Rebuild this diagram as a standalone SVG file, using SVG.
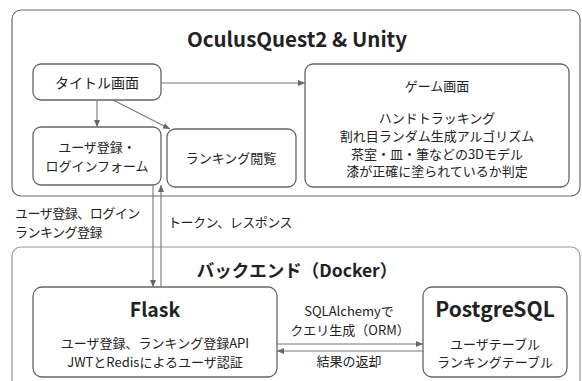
<svg xmlns="http://www.w3.org/2000/svg" width="582" height="381" viewBox="0 0 582 381">
<defs>
<style>
.cont{fill:#fff;stroke:#6a6a6a;stroke-width:1.2}
.cont2{fill:#fff;stroke:#9a9a9a;stroke-width:1.2}
.node{fill:#fff;stroke:#666;stroke-width:1.3}
text{font-family:"Noto Sans CJK JP","Noto Sans",sans-serif;fill:#222;text-anchor:middle}
.t{font-size:13px}
.h{font-size:19.5px;font-weight:bold}
.l{font-size:13px;text-anchor:start;letter-spacing:-0.5px}
.edge{fill:none;stroke:#777;stroke-width:1.1}
</style>
<marker id="ah" markerWidth="8" markerHeight="8" refX="7" refY="4" orient="auto" markerUnits="userSpaceOnUse">
<path d="M0,1 L7,4 L0,7 Z" fill="#666"/>
</marker>
</defs>
<rect width="582" height="381" fill="#fff"/>
<g id="frontend">
<rect class="cont" x="12" y="10" width="568" height="186" rx="9"/>
<text class="h" x="297" y="47" style="font-size:20.5px">OculusQuest2 &amp; Unity</text>
</g>
<g id="backend">
<rect class="cont2" x="12" y="247" width="568" height="145" rx="9"/>
<text class="h" x="297" y="277" style="font-size:17.5px">バックエンド（Docker）</text>
</g>
<g id="title">
<rect class="node" x="33" y="64" width="128" height="36" rx="8"/>
<text class="t" x="97" y="88" style="font-size:14px">タイトル画面</text>
</g>
<g id="login">
<rect class="node" x="33" y="127" width="128" height="58" rx="8"/>
<text class="t" x="97" y="152">ユーザ登録・</text>
<text class="t" x="97" y="171">ログインフォーム</text>
</g>
<g id="ranking">
<rect class="node" x="167" y="129" width="129" height="58" rx="8"/>
<text class="t" x="231" y="163">ランキング閲覧</text>
</g>
<g id="game">
<rect class="node" x="305" y="64" width="264" height="123" rx="8"/>
<text class="t" x="437" y="91">ゲーム画面</text>
<text class="t" x="437" y="123">ハンドトラッキング</text>
<text class="t" x="437" y="141">割れ目ランダム生成アルゴリズム</text>
<text class="t" x="437" y="158.5">茶室・皿・筆などの3Dモデル</text>
<text class="t" x="437" y="176">漆が正確に塗られているか判定</text>
</g>
<g id="flask">
<rect class="node" x="33" y="287" width="244" height="90" rx="9"/>
<text class="h" x="155" y="317">Flask</text>
<text class="t" x="155" y="348">ユーザ登録、ランキング登録API</text>
<text class="t" x="155" y="367">JWTとRedisによるユーザ認証</text>
</g>
<g id="postgres">
<rect class="node" x="423" y="287" width="144" height="90" rx="9"/>
<text class="h" x="495" y="317" style="font-size:21px">PostgreSQL</text>
<text class="t" x="495" y="349">ユーザテーブル</text>
<text class="t" x="495" y="367">ランキングテーブル</text>
</g>
<g id="connectors">
<path class="edge" d="M161,83 H305" marker-end="url(#ah)"/>
<path class="edge" d="M97,100 V127" marker-end="url(#ah)"/>
<path class="edge" d="M113,100 L170,129" marker-end="url(#ah)"/>
<path class="edge" d="M153,185 V287" marker-end="url(#ah)"/>
<path class="edge" d="M161,287 V185" marker-end="url(#ah)"/>
<path class="edge" d="M277,344 H423" marker-end="url(#ah)"/>
<path class="edge" d="M423,351 H277" marker-end="url(#ah)"/>
<text class="l" x="15" y="218">ユーザ登録、ログイン</text>
<text class="l" x="15" y="237">ランキング登録</text>
<text class="l" x="168" y="227">トークン、レスポンス</text>
<text class="t" x="349" y="316">SQLAlchemyで</text>
<text class="t" x="350" y="335">クエリ生成（ORM）</text>
<text class="t" x="349" y="366">結果の返却</text>
</g>
</svg>
